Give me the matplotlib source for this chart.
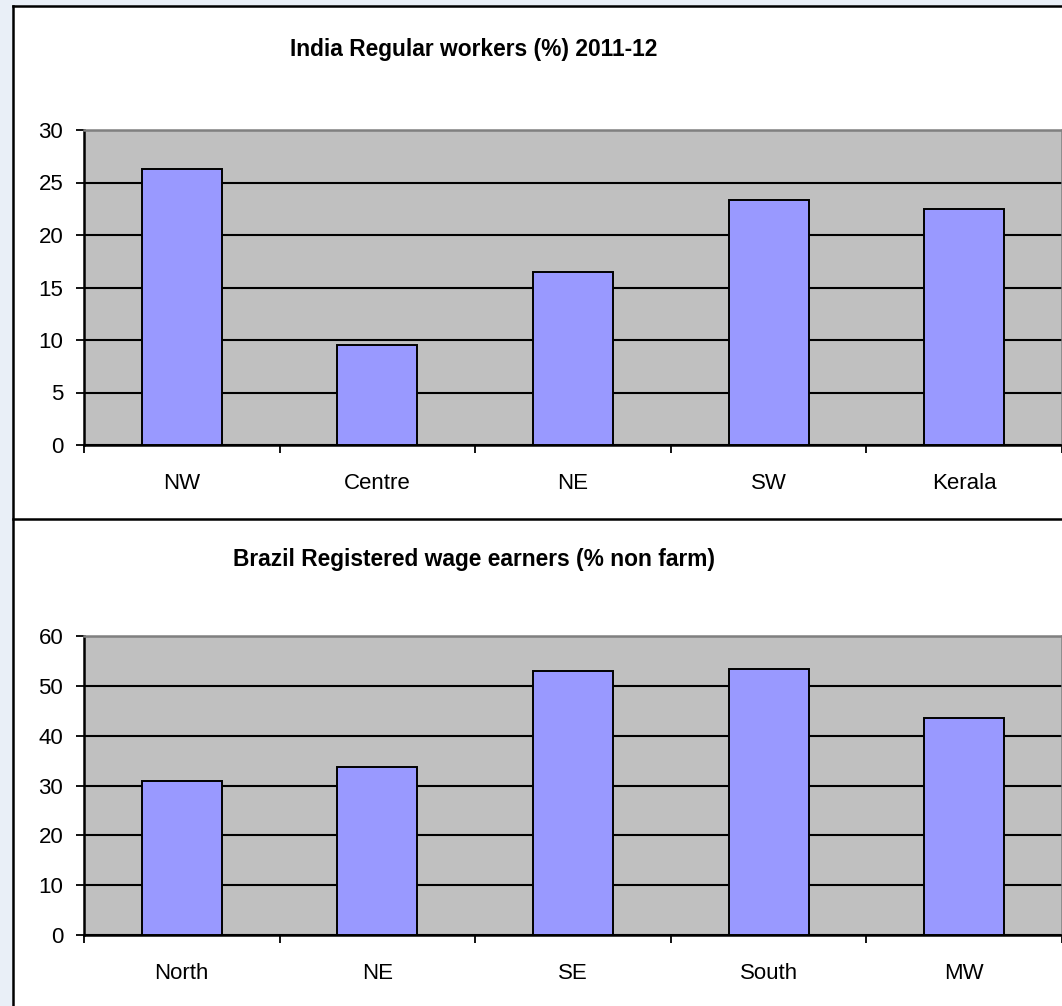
import matplotlib.pyplot as plt
from matplotlib.patches import Rectangle
import numpy as np

# India regular workers (%) 2011-12
india_regions = ["NW", "Centre", "NE", "SW", "Kerala"]
india_values = [26.3, 9.5, 16.45, 23.3, 22.5]

# Brazil registered wage earners (% non farm)
brazil_regions = ["North", "NE", "SE", "South", "MW"]
brazil_values = [30.9, 33.8, 52.9, 53.3, 43.5]

W, H = 1062, 1006
bg = "#E9EFF7"
bar_color = "#9999FF"
plot_bg = "#C0C0C0"

plt.rcParams["font.family"] = ["Liberation Sans", "DejaVu Sans"]

fig = plt.figure(figsize=(W / 100, H / 100), dpi=100, facecolor=bg)

# white chart area with black frame lines
fig.patches.append(Rectangle((12.5 / W, 0), 1, (H - 6) / H, transform=fig.transFigure,
                             facecolor="white", edgecolor="none", zorder=-5))
for xs, ys in [([12.5 / W, 12.5 / W], [0, (H - 6) / H]),
               ([12.5 / W, 1], [(H - 6) / H, (H - 6) / H]),
               ([12.5 / W, 1], [(H - 519) / H, (H - 519) / H])]:
    fig.add_artist(plt.Line2D(xs, ys, color="black", lw=1.8, transform=fig.transFigure, zorder=-4))


def draw_panel(rect, cats, vals, ymax, ystep, title, title_y):
    ax = fig.add_axes(rect, zorder=2)
    ax.set_facecolor(plot_bg)
    x = np.arange(len(cats))
    ax.bar(x, vals, width=0.41, color=bar_color, edgecolor="black", linewidth=1.4, zorder=3)
    ax.set_xlim(-0.5, len(cats) - 0.5)
    ax.set_ylim(0, ymax)
    ax.set_yticks(np.arange(0, ymax + 1, ystep))
    ax.yaxis.grid(True, color="black", linewidth=1.5, zorder=1)
    ax.set_axisbelow(True)
    ax.set_xticks(np.arange(-0.5, len(cats)), labels=[])
    ax.set_xticks(x, labels=cats, minor=True)
    ax.tick_params(axis="x", which="major", direction="out", length=6, width=1.3, color="black")
    ax.tick_params(axis="x", which="minor", length=0, pad=20, labelsize=16)
    ax.tick_params(axis="y", direction="out", length=6, width=1.3, pad=9, labelsize=16)
    for s in ["left", "bottom"]:
        ax.spines[s].set_color("black")
        ax.spines[s].set_linewidth(1.8)
    for s in ["top", "right"]:
        ax.spines[s].set_color("#808080")
        ax.spines[s].set_linewidth(1.8)
    fig.text(474 / W, title_y, title, ha="center", va="baseline", fontsize=16.4,
             fontweight="bold")
    return ax


draw_panel([84 / W, (H - 445) / H, (W - 84) / W, 315 / H], india_regions, india_values,
           30, 5, "India Regular workers (%) 2011-12", (H - 56) / H)
draw_panel([84 / W, (H - 935) / H, (W - 84) / W, 299 / H], brazil_regions, brazil_values,
           60, 10, "Brazil Registered wage earners (% non farm)", (H - 566) / H)

fig.savefig("out.png", dpi=100, facecolor=bg)
